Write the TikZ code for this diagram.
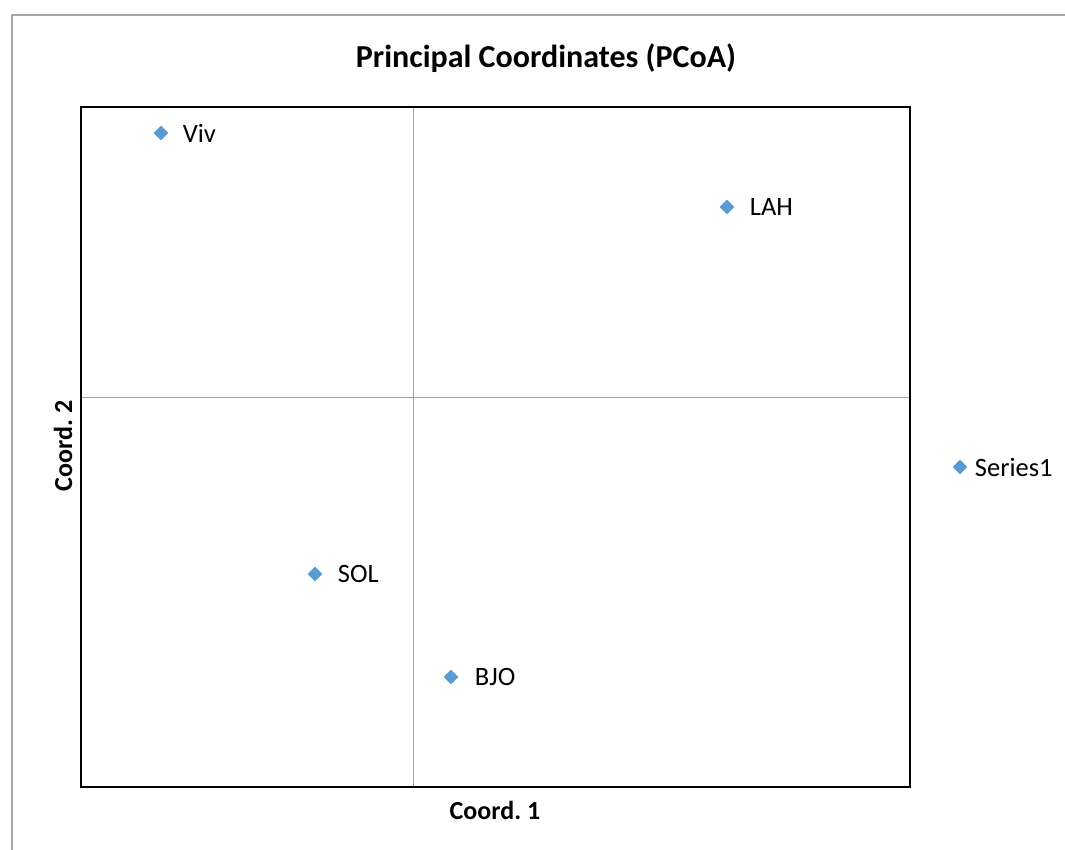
\documentclass[tikz,border=0pt]{standalone}
\usepackage{fontspec}
\setmainfont{Carlito}
\usepackage{tikz}
\usetikzlibrary{shapes,positioning,backgrounds}
\definecolor{markblue}{HTML}{5B9BD5}
\definecolor{outerg}{HTML}{A6A6A6}
\definecolor{gridg}{HTML}{A0A0A0}
\frenchspacing
\tikzset{
  pt/.style={diamond,fill=markblue,inner sep=0pt,minimum size=15pt},
  lbl/.style={inner sep=0pt,font=\fontsize{26.5}{30}\selectfont},
  axlbl/.style={inner sep=0pt,font=\bfseries\fontsize{26}{30}\selectfont},
  gridline/.style={draw=gridg,line width=1pt},
  plotframe/.style={draw=black,line width=2.8pt}
}
\begin{document}
\begin{tikzpicture}[x=1pt,y=-1pt]
  \useasboundingbox (0,0) rectangle (1065,850);
  \draw[outerg,line width=1.5pt] (1070,15) -| (12,855);

  \coordinate (nw) at (81,107);
  \coordinate (se) at (910,787);
  \coordinate (mid) at (413,397);

  \draw[gridline] (mid |- nw) -- (mid |- se);
  \draw[gridline] (mid -| nw) -- (mid -| se);
  \draw[plotframe] (nw) rectangle (se);

  \node[axlbl,font=\bfseries\fontsize{32}{36}\selectfont] (title) at (546,58) {Principal Coordinates (PCoA)};
  \node[axlbl] (xlab) at (495,810) {Coord. 1};
  \node[axlbl,rotate=90] (ylab) at (63,446) {Coord. 2};

  \node[pt] (viv) at (161,133) {};
  \node[lbl,right=14pt of viv] (vivl) {Viv};
  \node[pt] (lah) at (727,207) {};
  \node[lbl,right=15pt of lah] (lahl) {LAH};
  \node[pt] (sol) at (315,574) {};
  \node[lbl,right=15pt of sol] (soll) {SOL};
  \node[pt] (bjo) at (451,677) {};
  \node[lbl,right=16pt of bjo] (bjol) {BJO};

  \node[pt] (ser) at (960,467) {};
  \node[lbl,right=7pt of ser] (serl) {Series1};
\end{tikzpicture}
\end{document}
